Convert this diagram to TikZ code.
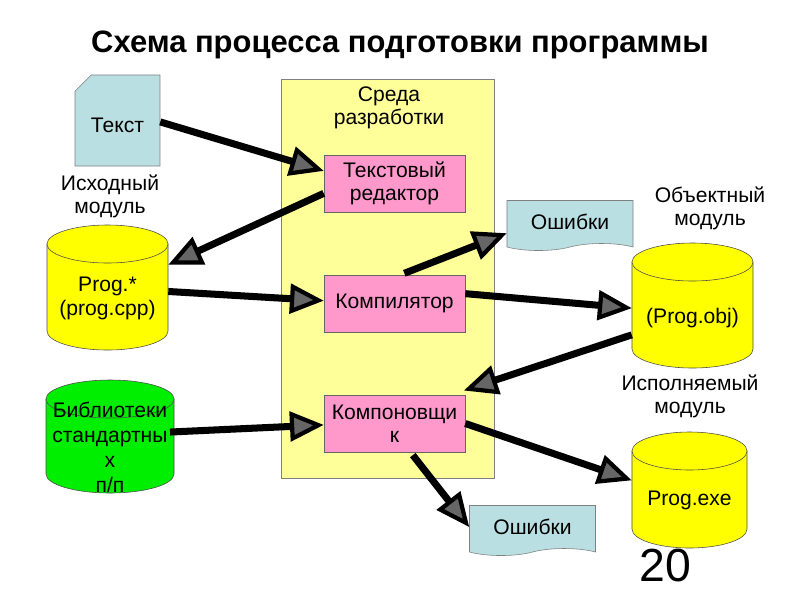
\documentclass[tikz,border=0pt]{standalone}
\usepackage{fontspec}
\setmainfont{Liberation Sans}
\usetikzlibrary{shapes.misc,shapes.symbols,arrows.meta}
\definecolor{envyellow}{HTML}{FFFF99}
\definecolor{boxpink}{HTML}{FF99CC}
\definecolor{docblue}{HTML}{B9DFE3}
\definecolor{dbyellow}{HTML}{FFFF00}
\definecolor{dbgreen}{HTML}{00EE00}

\begin{document}
\begin{tikzpicture}[x=0.025cm,y=-0.025cm,font=\fontsize{15}{16.5}\selectfont]
    \tikzstyle{box}=[rectangle,draw=black!60,fill=boxpink,minimum width=3.525cm,minimum height=1.425cm,align=center,inner sep=1pt]
    \tikzstyle{dbbody}=[draw=black!70]
    \tikzstyle{err}=[tape,tape bend top=none,draw=black!50,fill=docblue,minimum width=3.15cm,minimum height=1.25cm]
    \tikzstyle{lbl}=[align=center]
    \tikzstyle{flow}=[line width=5pt,-{Triangle[length=24pt,width=21pt,line width=3pt,fill=black!60]}]

\useasboundingbox (0,0) rectangle (800,600);
\fill[white] (0,0) rectangle (800,600);

\node[font=\fontsize{22}{26}\selectfont\bfseries] (title) at (400,45) {Схема процесса подготовки программы};

% environment
\node[rectangle,draw=black!50,fill=envyellow,minimum width=5.325cm,minimum height=9.975cm] (env) at (387.5,278.5) {};
\node[lbl] (envlabel) at (389,108) {Среда\\разработки};

\node[box] (editor) at (394.5,183.5) {Текстовый\\редактор};
\node[box] (compiler) at (394.5,303.5) {Компилятор};
\node[box] (linker) at (394.5,423.5) {Компоновщи\\к};

% documents
\node[chamfered rectangle,chamfered rectangle corners=north west,chamfered rectangle xsep=8pt,align=center,
      draw=black!50,fill=docblue,minimum width=1.875cm,minimum height=2.275cm] (text) at (117.5,120.5) {\\Текст};
\node[err] (errtop) at (570,222) {Ошибки};
\node[err] (errbot) at (532.5,527) {Ошибки};

\node[lbl] (srclabel) at (110,196) {Исходный\\модуль};
\node[lbl] (objlabel) at (710,208) {Объектный\\модуль};
\node[lbl] (exelabel) at (690,396) {Исполняемый\\модуль};

% cylinders: name/x/top/bottom/radius/colour/text y/text
\foreach \nm/\px/\ptop/\pbot/\rad/\col/\ty/\txt in {
    progsrc/107.5/225/350/60.5/dbyellow/298.5/{Prog.*\\(prog.cpp)},
    libs/110/380/493/64/dbgreen/447.5/{Библиотеки\\[1.2pt]стандартны\\[1.2pt]х\\[1.2pt]п/п},
    progobj/692.5/243/368/60.5/dbyellow/318/{(Prog.obj)},
    progexe/689.5/432/548/57.5/dbyellow/500/{Prog.exe}}{
    \draw[dbbody,fill=\col] (\px-\rad,\ptop+19) -- (\px-\rad,\pbot-19)
        arc[start angle=180,end angle=0,x radius=\rad,y radius=19] -- (\px+\rad,\ptop+19) -- cycle;
    \draw[dbbody,fill=\col] (\px,\ptop+19) ellipse [x radius=\rad,y radius=19];
    \node[lbl,minimum width=2*\rad*0.025cm,inner xsep=0pt] (\nm) at (\px,\ty) {\txt};
}

\node[font=\fontsize{33}{36}\selectfont] (page) at (665,566) {20};

\draw[flow] ([yshift=-1pt]text.east) -- ([yshift=9pt]editor.west);
\draw[flow] ([yshift=-7pt]editor.west) -- ([yshift=24pt]progsrc.east);
\draw[flow] ([yshift=5pt]progsrc.east) -- ([yshift=2pt]compiler.west);
\draw[flow] ([xshift=7pt,yshift=1pt]compiler.north) -- ([yshift=-8pt]errtop.west);
\draw[flow] ([yshift=7pt]compiler.east) -- ([yshift=7pt]progobj.west);
\draw[flow] ([yshift=-12pt]progobj.west) -- ([xshift=-1pt,yshift=3pt]linker.north east);
\draw[flow] ([xshift=-3pt,yshift=11pt]libs.east) -- ([yshift=-1pt]linker.west);
\draw[flow] (linker.east) -- ([yshift=14pt]progexe.west);
\draw[flow] ([xshift=13pt,yshift=-2pt]linker.south) -- (errbot.west);
\end{tikzpicture}
\end{document}
